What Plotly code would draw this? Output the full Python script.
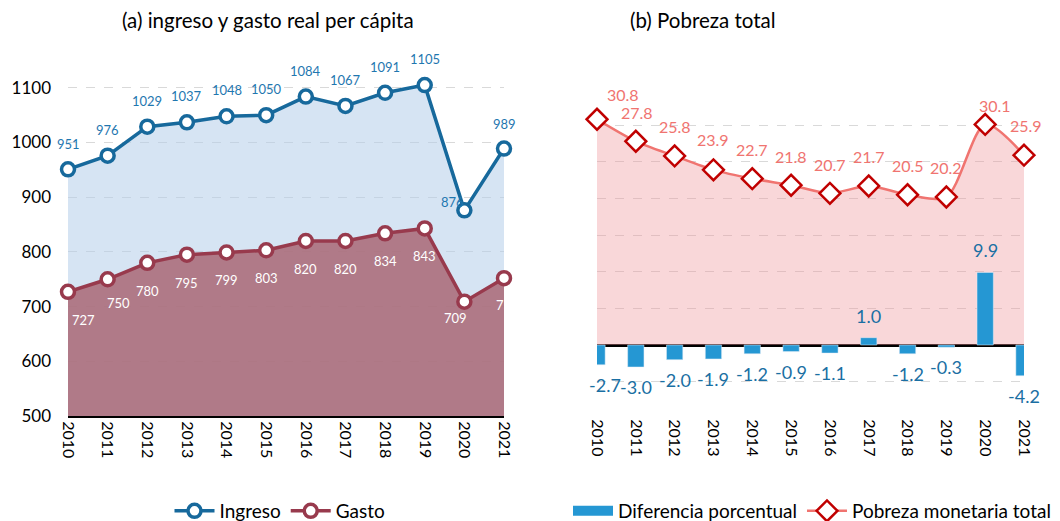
import plotly.graph_objects as go

years = [2010, 2011, 2012, 2013, 2014, 2015, 2016, 2017, 2018, 2019, 2020, 2021]
year_labels = [str(y) for y in years]
ingreso = [951, 976, 1029, 1037, 1048, 1050, 1084, 1067, 1091, 1105, 876, 989]
gasto = [727, 750, 780, 795, 799, 803, 820, 820, 834, 843, 709, 752]
pobreza = [30.8, 27.8, 25.8, 23.9, 22.7, 21.8, 20.7, 21.7, 20.5, 20.2, 30.1, 25.9]
diferencia = [-2.7, -3.0, -2.0, -1.9, -1.2, -0.9, -1.1, 1.0, -1.2, -0.3, 9.9, -4.2]

FONT = "Lato"
BLUE_LINE = "#17699C"
BLUE_LBL = "#1F77B0"
MAROON = "#983A4D"
SALMON = "#F07470"
DKRED = "#C00000"
BAR = "#2597D3"
BAR_LBL = "#1A6FA3"

fig = go.Figure()

# ---- left panel ----
fig.add_trace(go.Scatter(x=years, y=ingreso, mode="lines", line=dict(width=0),
                         fill="tozeroy", fillcolor="rgba(180,206,233,0.55)",
                         showlegend=False, hoverinfo="skip", xaxis="x", yaxis="y"))
fig.add_trace(go.Scatter(x=years, y=gasto, mode="lines", line=dict(width=0),
                         fill="tozeroy", fillcolor="rgba(169,103,116,0.85)",
                         showlegend=False, hoverinfo="skip", xaxis="x", yaxis="y"))
fig.add_trace(go.Scatter(x=years, y=ingreso, name="Ingreso", mode="lines+markers",
                         line=dict(color=BLUE_LINE, width=3.5),
                         marker=dict(symbol="circle", size=13, color="white",
                                     line=dict(color=BLUE_LINE, width=3.5)),
                         cliponaxis=False, xaxis="x", yaxis="y", legend="legend"))
fig.add_trace(go.Scatter(x=years, y=gasto, name="Gasto", mode="lines+markers",
                         line=dict(color=MAROON, width=3.5),
                         marker=dict(symbol="circle", size=13, color="white",
                                     line=dict(color=MAROON, width=3.5)),
                         cliponaxis=False, xaxis="x", yaxis="y", legend="legend"))

# ---- right panel ----
fig.add_trace(go.Scatter(x=years, y=pobreza, mode="lines", line=dict(width=0, shape="spline", smoothing=0.8),
                         fill="tozeroy", fillcolor="rgba(240,150,155,0.38)",
                         showlegend=False, hoverinfo="skip", xaxis="x2", yaxis="y2"))
fig.add_trace(go.Bar(x=years, y=diferencia, name="Diferencia porcentual", marker_color=BAR,
                     width=0.42, showlegend=False, xaxis="x2", yaxis="y3"))
# legend swatch for the bar series
fig.add_trace(go.Scatter(x=[None], y=[None], name="Diferencia porcentual", mode="lines",
                         line=dict(color=BAR, width=13), xaxis="x2", yaxis="y2", legend="legend2"))
fig.add_trace(go.Scatter(x=years, y=pobreza, name="Pobreza monetaria total", mode="lines+markers",
                         line=dict(color=SALMON, width=2.5, shape="spline", smoothing=0.8),
                         marker=dict(symbol="diamond", size=16, color="white",
                                     line=dict(color=DKRED, width=2.5)),
                         cliponaxis=False, xaxis="x2", yaxis="y2", legend="legend2"))

ann = []
ing_dx = [0, 0, 0, 0, 0, 0, 0, 0, 0, 0, -12, 0]
ing_dy = [25, 26, 26, 26, 26, 26, 26, 26, 26, 26, 8, 25]
for x, v, dx, dy in zip(years, ingreso, ing_dx, ing_dy):
    ann.append(dict(x=x, y=v, xref="x", yref="y", text=str(v), showarrow=False,
                    xshift=dx, yshift=dy, font=dict(family=FONT, size=13, color=BLUE_LBL)))
gas_dx = [15, 11, 0, 0, 0, 0, 0, 0, 0, 0, -9, 3]
gas_dy = [-28, -24, -28, -28, -28, -28, -28, -28, -28, -28, -16, -27]
for x, v, dx, dy in zip(years, gasto, gas_dx, gas_dy):
    ann.append(dict(x=x, y=v, xref="x", yref="y", text=str(v), showarrow=False,
                    xshift=dx, yshift=dy, font=dict(family=FONT, size=13, color="white")))
pob_dx = [26, 1, 0, 0, 0, 0, 0, 0, 0, 0, 10, 2]
pob_dy = [25, 29, 29, 30, 29, 29, 29, 29, 29, 29, 19, 30]
for x, v, dx, dy in zip(years, pobreza, pob_dx, pob_dy):
    ann.append(dict(x=x, y=v, xref="x2", yref="y2", text=f"{v:.1f}", showarrow=False,
                    xshift=dx, yshift=dy, font=dict(family=FONT, size=16, color=SALMON)))
for i, (x, v) in enumerate(zip(years, diferencia)):
    dx = 8 if i == 0 else 0
    dy = 22 if v > 0 else -20
    ann.append(dict(x=x, y=v, xref="x2", yref="y2", text=f"{v:.1f}", showarrow=False,
                    xshift=dx, yshift=dy, font=dict(family=FONT, size=18, color=BAR_LBL)))

ann.append(dict(x=268 / 1060, y=(521 - 20) / 521, xref="paper", yref="paper",
                xanchor="center", yanchor="middle",
                text="(a) ingreso y gasto real per cápita", showarrow=False,
                font=dict(family=FONT, size=20.5, color="black")))
ann.append(dict(x=703 / 1060, y=(521 - 20) / 521, xref="paper", yref="paper",
                xanchor="center", yanchor="middle",
                text="(b) Pobreza total", showarrow=False,
                font=dict(family=FONT, size=20.5, color="black")))

tickfont = dict(family=FONT, size=16, color="black")
fig.update_layout(
    width=1060, height=521,
    margin=dict(l=0, r=0, t=0, b=0, autoexpand=False),
    paper_bgcolor="white", plot_bgcolor="white",
    font=dict(family=FONT, color="black"),
    annotations=ann,
    xaxis=dict(domain=[68 / 1060, 504 / 1060], range=[2010, 2021], tickvals=years,
               ticktext=year_labels, tickangle=90, tickfont=tickfont, showgrid=False,
               showline=True, linecolor="black", linewidth=2, zeroline=False, ticks="",
               automargin=False),
    yaxis=dict(domain=[(521 - 416) / 521, (521 - 60.5) / 521], range=[500, 1150],
               tickvals=[500, 600, 700, 800, 900, 1000, 1100], tickfont=dict(family=FONT, size=17, color="black"),
               showgrid=True, gridcolor="#D9D9D9", griddash="dash", gridwidth=1,
               zeroline=False, showline=False, ticks="", ticklabelstandoff=16, automargin=False),
    xaxis2=dict(domain=[597 / 1060, 1024 / 1060], range=[2010, 2021], tickvals=years,
                ticktext=year_labels, tickangle=90, tickfont=tickfont, showgrid=False,
                showline=False, zeroline=False, ticks="", anchor="y2", automargin=False),
    yaxis2=dict(domain=[(521 - 418.3) / 521, (521 - 88.5) / 521], range=[-10, 35],
                tick0=0, dtick=5, showticklabels=False, showgrid=True, gridcolor="#D9D9D9",
                griddash="dash", zeroline=True, zerolinecolor="black", zerolinewidth=2.5,
                showline=False, ticks="", anchor="x2", automargin=False),
    yaxis3=dict(domain=[(521 - 418.3) / 521, (521 - 88.5) / 521], range=[-10, 35],
                overlaying="y2", visible=False, showgrid=False, zeroline=False, anchor="x2"),
    legend=dict(orientation="h", x=280 / 1060, xanchor="center", y=(521 - 511) / 521,
                yanchor="middle", font=dict(family=FONT, size=19, color="black"),
                bgcolor="rgba(0,0,0,0)", itemwidth=40),
    legend2=dict(orientation="h", x=812 / 1060, xanchor="center", y=(521 - 511) / 521,
                 yanchor="middle", font=dict(family=FONT, size=19, color="black"),
                 bgcolor="rgba(0,0,0,0)", itemwidth=40),
    showlegend=True,
)

fig.write_html("out.html", config={"displayModeBar": False},
               post_script="document.body.style.margin='0';")
